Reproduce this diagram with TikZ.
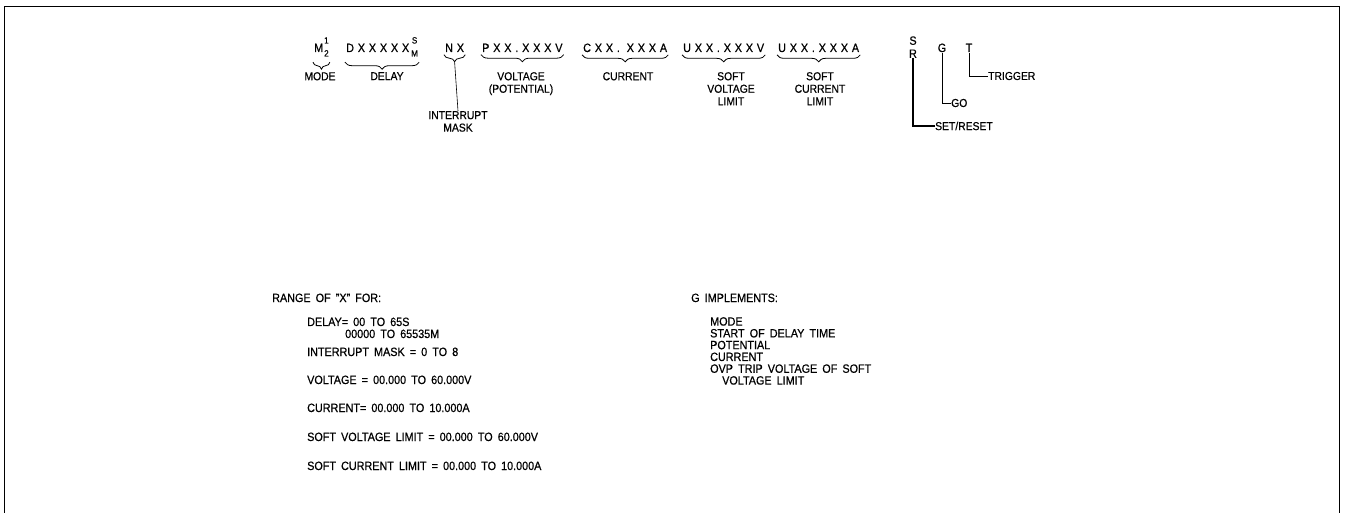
\documentclass[tikz,border=0pt]{standalone}
\usepackage{fontspec}
\setmainfont{Liberation Sans}[WordSpace=1.7, FakeStretch=0.9, FakeBold=0.6]
\newfontfamily\codefont{Liberation Sans}[LetterSpace=32, FakeStretch=0.9, FakeBold=0.6]
\usetikzlibrary{decorations.pathreplacing,positioning}
\newcommand{\supsub}[2]{\raisebox{-4.5pt}{\fontsize{9}{10}\selectfont\begin{tabular}[b]{@{}c@{}}#1\\[3pt]#2\end{tabular}}}

\begin{document}
\begin{tikzpicture}[x=1pt, y=-1pt, font=\fontsize{11.5}{12.5}\selectfont,
  code/.style={inner sep=1pt, anchor=base west, font=\fontsize{12}{13}\codefont},
  lbl/.style={inner sep=0pt, align=center, anchor=north},
  brc/.style={decorate, decoration={brace, mirror, amplitude=7pt}, line width=0.8pt},
  txt/.style={inner sep=0pt, anchor=base west, align=left, font=\fontsize{12}{13}\selectfont},
  lead/.style={line width=0.6pt}]
  \useasboundingbox (0,0) rectangle (1345,513);
  % frame
  \draw[line width=1pt] (4,513) -- (4,7) -- (1339,7) -- (1339,513);

  % command string
  \node[code] (mode) at (313,52) {M\hspace{1pt}\supsub{1}{2}};
  \node[code] (delay) at (345,52) {DXXXXX\hspace{2pt}\supsub{S}{M}};
  \node[code] (nx) at (444,52) {NX};
  \node[code] (volt) at (481,52) {PXX.XXXV};
  \node[code] (curr) at (582,52) {CXX. XXXA};
  \node[code] (svl) at (682,52) {UXX.XXXV};
  \node[code] (scl) at (777,52) {UXX.XXXA};
  \node[anchor=south, inner sep=0pt, align=center, font=\fontsize{12}{13}\selectfont] (sr) at (913,58) {S\\R};
  \node[code, anchor=base] (g) at (942,52) {G};
  \node[code, anchor=base] (t) at (969,52) {T};

  % braces
  \foreach \f in {mode,delay,nx,volt,curr,svl,scl}
    \draw[brc] ([yshift=-1.5pt]\f.south west) -- ([yshift=-1.5pt]\f.south east);

  % field names
  \node[lbl] (lmode) at (320,72) {MODE};
  \node[lbl] (ldelay) at (387,72) {DELAY};
  \node[lbl] (lvolt) at (521,72) {VOLTAGE\\(POTENTIAL)};
  \node[lbl] (lcurr) at (628,72) {CURRENT};
  \node[lbl] (lsvl) at (731,72) {SOFT\\VOLTAGE\\LIMIT};
  \node[lbl] (lscl) at (820,72) {SOFT\\CURRENT\\LIMIT};
  \node[lbl] (imask) at (458,111) {INTERRUPT\\MASK};
  \coordinate (nxtip) at ([yshift=-9pt]nx.south);
  \draw[lead] (nxtip) -- (imask.north);

  % single letter commands
  \node[txt, anchor=west, font=\fontsize{11.5}{12.5}\selectfont] (setreset) at (935,126) {SET/RESET};
  \node[txt, anchor=west, font=\fontsize{11.5}{12.5}\selectfont] (go) at (951,103) {GO};
  \node[txt, anchor=west, font=\fontsize{11.5}{12.5}\selectfont] (trig) at (988,76) {TRIGGER};
  \draw[line width=1.1pt] (sr.south) |- (setreset.west);
  \draw[lead] (g.south) |- (go.west);
  \draw[lead] (t.south) |- (trig.west);

  % ranges
  \node[txt] (range) at (272,302) {RANGE OF "X" FOR:};
  \node[txt] (rdelay) at (307,326) {DELAY= 00 TO 65S};
  \node[txt] (rdelay2) at (345,338) {00000 TO 65535M};
  \node[txt] (rmask) at (307,356) {INTERRUPT MASK = 0 TO 8};
  \node[txt] (rvolt) at (307,384) {VOLTAGE = 00.000 TO 60.000V};
  \node[txt] (rcurr) at (307,412) {CURRENT= 00.000 TO 10.000A};
  \node[txt] (rsvl) at (307,441) {SOFT VOLTAGE LIMIT = 00.000 TO 60.000V};
  \node[txt] (rscl) at (307,470) {SOFT CURRENT LIMIT = 00.000 TO 10.000A};

  % G implements
  \node[txt] (gimp) at (691,302) {G IMPLEMENTS:};
  \node[txt, anchor=north west, font=\fontsize{12}{11.8}\selectfont] (glist) at (710,317)
    {MODE\\START OF DELAY TIME\\POTENTIAL\\CURRENT\\OVP TRIP VOLTAGE OF SOFT\\\hspace*{12pt}VOLTAGE LIMIT};
\end{tikzpicture}
\end{document}
